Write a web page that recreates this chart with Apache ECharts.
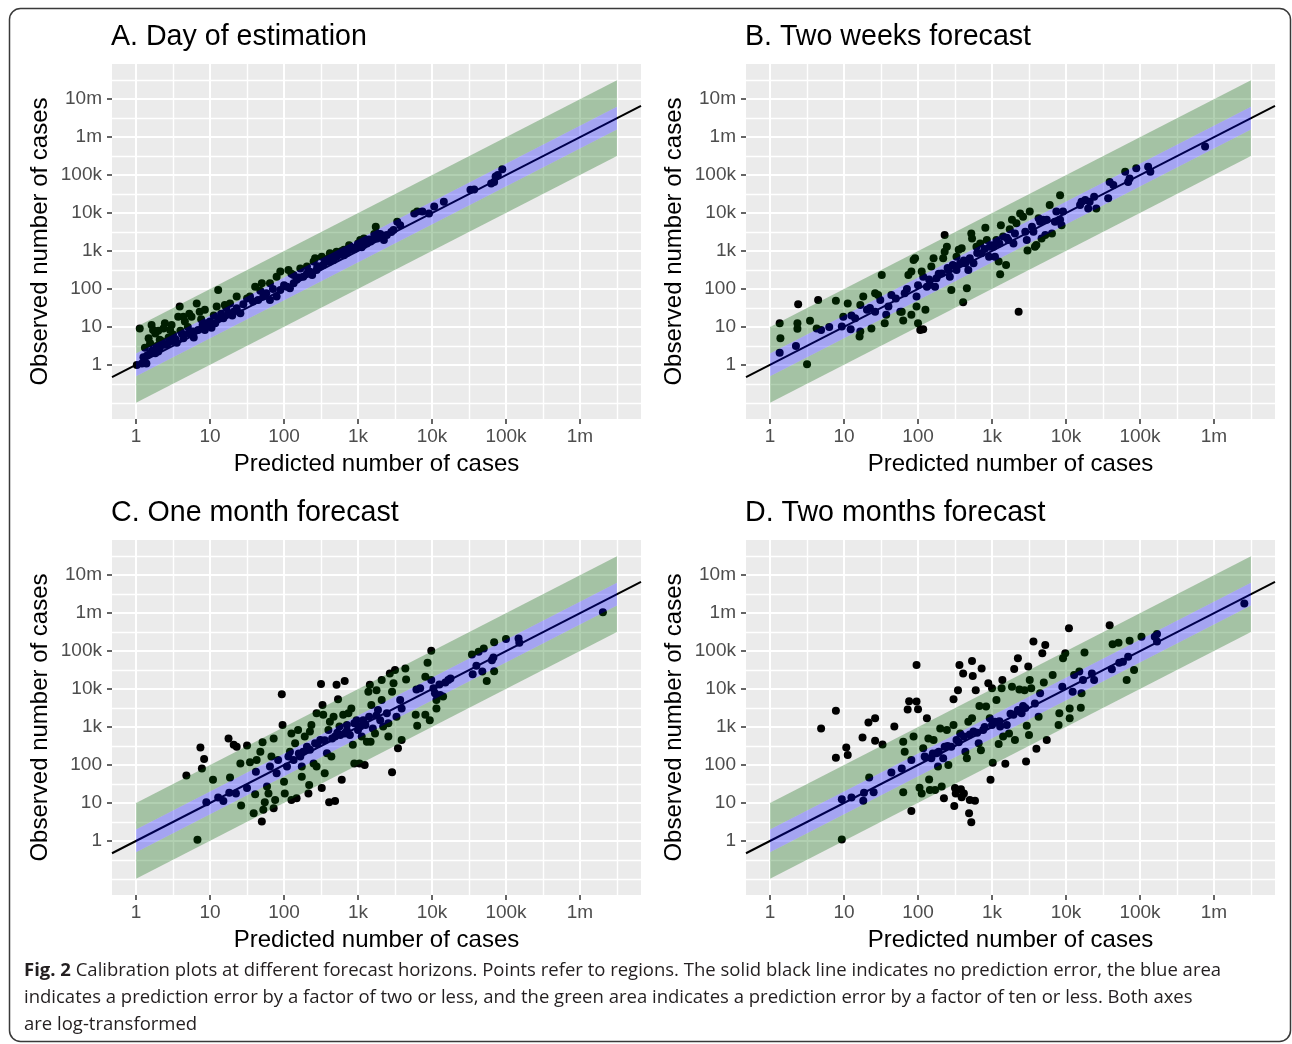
<!DOCTYPE html>
<html>
<head>
<meta charset="utf-8">
<title>Calibration plots at different forecast horizons</title>
<script src="https://cdn.jsdelivr.net/npm/echarts@6.0.0/dist/echarts.min.js"></script>
<style>
  html, body { margin: 0; padding: 0; background: #fff; }
  #chart { width: 1292px; height: 1044px; }
</style>
</head>
<body>
<div id="chart"></div>
<script>
// 两个坐标轴都是 log10 变换后的病例数, 点数据直接存 log10 值 [predicted, observed]
const panelTitles = ["A. Day of estimation", "B. Two weeks forecast", "C. One month forecast", "D. Two months forecast"];
const xName = "Predicted number of cases";
const yName = "Observed number of cases";

const xTickLogs = [0, 1, 2, 3, 4, 5, 6];
const xTickLabels = ["1", "10", "100", "1k", "10k", "100k", "1m"];
const yTickLogs = [0, 1, 2, 3, 4, 5, 6, 7];
const yTickLabels = ["1", "10", "100", "1k", "10k", "100k", "1m", "10m"];
const xMinorLogs = [0.5, 1.5, 2.5, 3.5, 4.5, 5.5, 6.5];
const yMinorLogs = [-1, -0.5, 0.5, 1.5, 2.5, 3.5, 4.5, 5.5, 6.5, 7.5];

// 坐标范围 (ggplot 默认 5% 扩展)
const xRange = [-0.325, 6.825];
const yRange = [-1.425, 7.925];
// 误差带: 从 1 到 10^6.5, 系数 2 (蓝) 和 10 (绿)
const bandRange = [0, 6.5];
const LOG2 = Math.log10(2);

const pointsA = [
  [0.05,0.96],[0.21,1.05],[0.23,0.92],[0.17,0.70],[0.19,0.57],[0.26,0.83],[0.37,0.96],[0.39,1.10],[0.32,0.66],[0.46,0.92],
  [0.59,1.54],[0.64,1.27],[0.57,1.27],[0.66,1.14],[0.75,1.27],[0.82,1.62],[0.86,1.40],[0.93,1.45],[0.95,1.10],[1.09,1.54],
  [1.11,1.97],[1.20,1.58],[1.27,1.62],[1.36,1.80],
  [0.01,0.00],[0.08,0.04],[0.14,0.04],[0.19,0.31],[0.26,0.31],[0.32,0.44],[0.39,0.53],[0.46,0.61],[0.53,0.68],[0.64,0.70],
  [0.71,0.83],[0.77,0.88],[0.84,0.92],[0.93,0.92],[1.00,1.14],[1.07,1.10],[1.11,1.23],[1.18,1.23],[1.25,1.36],[1.32,1.40],
  [1.36,1.49],[1.41,1.36],
  [0.12,0.45],[0.15,0.25],[0.22,0.38],[0.28,0.50],[0.35,0.62],[0.42,0.55],[0.50,0.80],[0.55,0.58],[0.60,0.90],[0.70,1.00],
  [0.78,0.72],[0.90,1.05],[1.02,0.98],[1.15,1.35],[1.30,1.30],
  [1.54,1.80],[1.61,2.06],[1.70,2.15],[1.81,2.15],[1.90,2.32],[1.95,2.46],[2.06,2.50],[2.13,2.37],[2.22,2.54],[2.31,2.59],
  [2.42,2.81],[2.51,2.85],[2.62,2.94],[2.71,2.98],[2.81,3.03],[2.90,3.11],[3.03,3.29],[3.08,3.33],[3.24,3.64],[3.26,3.46],
  [3.53,3.77],
  [1.58,1.67],[1.65,1.71],[1.72,1.80],[1.76,1.89],[1.81,1.71],[1.90,1.80],[1.95,1.97],[2.04,2.06],[2.08,2.02],[2.13,2.15],
  [2.17,2.24],[2.26,2.32],[2.31,2.41],[2.38,2.37],[2.44,2.50],[2.49,2.59],[2.53,2.63],[2.62,2.72],[2.67,2.76],[2.71,2.85],
  [2.81,2.89],[2.90,3.03],[2.94,3.07],[2.99,3.11],[3.08,3.16],[3.12,3.20],[3.17,3.25],[3.26,3.33],[3.35,3.29],[3.39,3.42],
  [3.48,3.55],[3.57,3.68],[3.76,3.99],[3.80,4.04],[3.87,4.04],[3.96,3.99],[4.03,4.17],[4.16,4.30],[4.52,4.61],[4.57,4.62],
  [4.80,4.78],[4.84,4.82],[4.86,4.96],[4.89,5.00],[4.95,5.15],
  [2.00,2.10],[2.20,2.30],[2.35,2.45],[2.55,2.70],[2.65,2.85],[2.75,2.90],[2.85,2.95],[2.95,3.05],[3.00,3.20],[3.05,3.10],
  [3.15,3.30],[3.20,3.30],[3.30,3.45],[3.45,3.50],[1.85,2.00],[1.50,1.75],[2.45,2.60],[2.60,2.80],[3.10,3.25],[3.35,3.40],
  [0.10,0.20],[0.30,0.35],[0.44,0.72],[0.62,0.82],[0.88,1.20],[1.05,1.30],[1.22,1.50],[1.45,1.60],[1.68,1.95],[2.10,2.40],
  [2.40,2.72],[2.58,2.78],[2.78,3.00],[2.88,3.15],[3.22,3.45],[0.30,0.90],[0.48,1.05],[0.72,1.35]
];

const pointsB = [
  [0.13,0.32],[0.35,0.50],[0.14,0.70],[0.13,1.10],[0.37,1.10],[0.37,0.95],[0.38,1.60],[0.50,0.02],[0.54,1.16],[0.65,1.71],
  [0.63,0.96],[0.69,0.92],[0.89,1.69],[1.05,1.62],[0.99,1.27],[0.97,1.01],[1.09,0.94],[1.15,1.23],[1.22,1.58],[1.21,0.75],
  [1.22,0.88],[1.26,1.80],[1.31,1.45],[1.37,0.96],[1.42,1.89],[1.46,1.84],[1.42,1.40],[1.49,1.71],[1.55,1.10],[1.57,1.32],
  [1.60,1.54],[1.64,1.84],[1.51,2.37],[1.76,1.40],[1.80,1.17],[1.78,1.40],[1.82,1.89],[1.87,2.37],[1.91,2.46],[1.94,2.76],
  [1.96,2.81],[1.98,1.80],[1.98,1.54],[1.91,1.32],[2.00,1.10],[2.03,0.92],[2.07,0.94],[2.10,1.45],[2.12,2.06],[2.07,2.32],
  [2.05,2.46],[2.16,2.11],[2.18,2.59],[2.21,2.81],[2.25,2.28],[2.23,2.06],[2.32,2.41],[2.34,2.81],[2.36,3.42],[2.36,2.98],
  [2.39,3.11],[2.41,2.50],[2.43,2.32],[2.45,1.97],[2.47,2.63],[2.52,2.85],[2.52,2.50],[2.55,3.03],[2.57,2.68],[2.59,3.07],
  [2.61,1.65],[2.64,2.68],[2.66,2.02],[2.68,2.50],[2.70,2.81],[2.72,3.46],[2.73,3.33],[2.75,2.68],[2.79,3.11],[2.84,3.20],
  [2.86,2.94],[2.91,3.61],[2.93,3.29],[2.96,2.85],[2.97,3.11],[3.02,3.11],[3.04,2.85],[3.06,3.29],[3.09,2.72],[3.11,2.39],
  [3.12,3.68],[3.15,3.38],[3.19,2.63],[3.22,3.29],[3.24,3.57],[3.27,3.82],[3.29,3.20],[3.31,3.46],[3.33,3.73],[3.36,1.40],
  [3.38,3.99],[3.42,3.90],[3.45,3.51],[3.47,3.29],[3.48,3.01],[3.51,4.04],[3.54,3.64],[3.56,3.51],[3.58,3.11],[3.60,3.16],
  [3.63,3.86],[3.65,3.77],[3.67,3.33],[3.69,3.82],[3.72,3.42],[3.74,3.82],[3.78,4.21],[3.81,3.46],[3.85,3.77],[3.87,4.04],
  [3.92,4.47],[3.92,3.82],[3.94,3.68],[3.96,4.04],[4.19,4.21],[4.21,4.30],[4.26,4.34],[4.30,4.12],[4.32,4.30],[4.38,4.43],
  [4.41,4.12],[4.57,4.39],[4.59,4.82],[4.64,4.74],[4.80,5.09],[4.84,4.82],[4.86,4.91],[4.95,5.18],[5.11,5.22],[5.14,5.09],
  [5.88,5.75],
  [1.70,1.75],[1.85,2.00],[2.00,2.10],[2.15,2.25],[2.28,2.40],[2.40,2.55],[2.50,2.60],[2.62,2.75],[2.80,2.95],[2.90,3.05],
  [3.00,3.15],[3.10,3.20],[3.20,3.35],[1.35,1.50],[1.10,1.30],[0.80,1.00]
];

const pointsC = [
  [0.83,0.03],[0.68,1.72],[0.87,2.46],[0.92,2.16],[0.89,1.91],[0.95,1.02],[1.04,1.61],[1.11,1.14],[1.18,1.05],[1.25,2.70],
  [1.27,1.67],[1.26,1.27],[1.32,2.53],[1.36,2.48],[1.35,1.25],[1.41,2.04],[1.42,0.93],[1.50,1.39],[1.50,2.51],[1.54,2.07],
  [1.59,0.73],[1.61,1.23],[1.62,1.82],[1.63,2.13],[1.68,2.35],[1.70,0.51],[1.71,2.60],[1.72,0.82],[1.74,1.02],[1.77,1.43],
  [1.79,1.25],[1.81,1.96],[1.83,2.22],[1.86,2.70],[1.86,0.86],[1.88,1.08],[1.90,1.78],[1.92,2.13],[1.97,3.86],[1.98,3.05],
  [2.00,1.56],[2.01,1.25],[2.04,1.96],[2.06,2.22],[2.08,2.35],[2.10,1.08],[2.10,2.83],[2.13,2.13],[2.15,2.57],[2.17,1.12],
  [2.19,2.92],[2.22,2.22],[2.24,1.96],[2.24,1.69],[2.26,2.35],[2.28,2.75],[2.31,2.48],[2.33,1.25],[2.34,1.47],[2.35,2.88],
  [2.37,3.05],[2.40,2.04],[2.42,2.57],[2.44,3.36],[2.44,1.96],[2.49,2.66],[2.50,4.13],[2.51,1.39],[2.52,3.58],[2.53,3.32],
  [2.55,1.78],[2.58,2.31],[2.60,2.92],[2.61,1.02],[2.62,3.14],[2.64,2.22],[2.67,3.27],[2.69,1.05],[2.69,2.75],[2.71,4.11],
  [2.73,3.73],[2.75,3.01],[2.76,2.79],[2.78,1.61],[2.80,3.32],[2.82,4.21],[2.82,2.83],[2.85,3.05],[2.87,3.36],[2.89,2.79],
  [2.91,3.49],[2.93,2.53],[2.95,2.04],[2.98,3.18],[3.00,2.92],[3.02,2.04],[3.03,3.01],[3.05,2.75],[3.07,3.18],[3.09,2.00],
  [3.12,2.61],[3.14,3.93],[3.15,3.27],[3.16,4.11],[3.17,2.61],[3.18,3.58],[3.20,2.96],[3.23,2.83],[3.25,3.97],[3.27,3.45],
  [3.30,3.18],[3.32,3.71],[3.32,4.24],[3.34,3.01],[3.39,3.36],[3.41,2.75],[3.41,3.10],[3.43,4.41],[3.46,3.93],[3.46,1.81],
  [3.48,4.15],[3.50,4.50],[3.52,3.27],[3.54,2.44],[3.57,3.71],[3.59,3.49],[3.59,2.66],[3.64,4.54],[3.65,4.25],[3.78,3.32],
  [3.79,3.99],[3.80,3.03],[3.84,4.02],[3.91,4.32],[3.91,3.32],[3.94,4.69],[3.97,3.18],[3.99,5.01],[3.99,4.24],[4.02,4.02],
  [4.04,3.89],[4.06,3.71],[4.06,3.49],[4.10,4.12],[4.11,3.84],[4.15,3.80],[4.18,4.17],[4.22,4.24],[4.25,4.28],[4.54,4.91],
  [4.55,4.39],[4.60,4.61],[4.63,4.98],[4.68,4.46],[4.70,5.07],[4.74,4.21],[4.81,4.76],[4.83,4.83],[4.84,4.47],[4.84,5.23],
  [5.00,5.32],[5.17,5.33],[5.18,5.22],[6.31,6.02],
  [2.20,2.30],[2.35,2.40],[2.45,2.55],[2.55,2.65],[2.65,2.70],[2.72,2.85],[2.85,2.90],[2.95,3.10],[3.10,3.05],[3.25,3.30]
];

const pointsD = [
  [0.97,0.04],[0.69,2.96],[0.89,3.43],[0.89,2.19],[1.03,2.46],[1.05,2.26],[0.97,1.10],[1.10,1.14],[1.26,1.06],[1.27,1.27],
  [1.34,1.67],[1.40,1.28],[1.25,2.72],[1.33,3.12],[1.42,3.23],[1.42,2.64],[1.52,2.54],[1.64,1.80],[1.68,3.01],[1.78,1.91],
  [1.80,1.28],[1.80,2.61],[1.82,2.35],[1.88,3.68],[1.86,3.46],[1.91,0.79],[1.91,2.13],[1.94,2.75],[1.98,4.63],[1.98,3.67],
  [2.00,3.47],[2.02,1.40],[2.05,1.25],[2.07,2.44],[2.09,2.22],[2.12,3.23],[2.14,2.70],[2.15,1.62],[2.16,1.34],[2.18,2.18],
  [2.21,2.66],[2.23,1.34],[2.25,2.31],[2.27,1.96],[2.30,2.96],[2.32,1.43],[2.34,2.18],[2.35,1.12],[2.36,2.48],[2.39,2.92],
  [2.41,2.00],[2.45,2.48],[2.48,3.05],[2.48,3.73],[2.49,0.92],[2.50,1.39],[2.51,1.25],[2.52,2.66],[2.54,3.97],[2.56,4.63],
  [2.57,2.83],[2.58,1.36],[2.59,1.15],[2.61,4.41],[2.62,1.25],[2.64,2.35],[2.66,2.18],[2.68,3.14],[2.69,0.73],[2.70,1.08],
  [2.72,0.49],[2.73,4.74],[2.73,3.23],[2.74,4.34],[2.75,2.88],[2.77,1.06],[2.78,3.97],[2.82,2.57],[2.83,3.55],[2.85,2.39],
  [2.86,4.54],[2.88,2.92],[2.92,3.54],[2.95,4.15],[2.97,3.23],[2.98,1.61],[3.00,4.02],[3.01,2.06],[3.04,3.14],[3.06,3.71],
  [3.09,2.55],[3.11,3.01],[3.13,4.02],[3.14,4.24],[3.15,2.75],[3.18,2.03],[3.20,3.05],[3.23,2.83],[3.27,4.06],[3.29,3.32],
  [3.30,4.53],[3.31,2.66],[3.35,4.81],[3.37,3.99],[3.40,3.36],[3.42,3.55],[3.44,3.97],[3.46,2.09],[3.47,3.03],[3.49,4.59],
  [3.50,2.79],[3.51,4.24],[3.53,4.02],[3.56,5.25],[3.58,3.62],[3.60,2.43],[3.63,3.27],[3.65,3.89],[3.68,4.94],[3.70,4.17],
  [3.72,5.16],[3.74,2.66],[3.82,4.37],[3.90,3.05],[3.91,3.36],[3.95,4.06],[3.96,4.81],[3.99,4.94],[4.04,5.60],[4.05,3.23],
  [4.05,3.49],[4.09,3.93],[4.11,4.37],[4.18,4.46],[4.20,3.51],[4.21,3.89],[4.23,4.24],[4.25,4.96],[4.35,4.41],[4.38,4.24],
  [4.59,5.68],[4.62,4.52],[4.63,5.18],[4.71,5.22],[4.72,4.69],[4.77,4.72],[4.82,4.24],[4.84,4.85],[4.86,5.27],[4.92,4.50],
  [5.02,5.38],[5.20,5.38],[5.23,5.45],[5.23,5.25],[6.41,6.25],
  [2.10,2.20],[2.20,2.30],[2.28,2.35],[2.40,2.50],[2.55,2.60],[2.62,2.75],[2.70,2.80],[2.80,2.85],[2.90,3.00],[3.00,3.05],
  [3.10,3.15],[3.25,3.35],[3.35,3.45],[3.45,3.50]
];

const panelPoints = [pointsA, pointsB, pointsC, pointsD];

// 面板布局
const panelLayout = [
  { left: 112, top: 64 },
  { left: 746, top: 64 },
  { left: 112, top: 540 },
  { left: 746, top: 540 }
];
const plotWidth = 529;
const plotHeight = 355;

const captionLines = [
  "{b|Fig. 2} Calibration plots at different forecast horizons. Points refer to regions. The solid black line indicates no prediction error, the blue area",
  "indicates a prediction error by a factor of two or less, and the green area indicates a prediction error by a factor of ten or less. Both axes",
  "are log-transformed"
];

const FONT = "Liberation Sans";
const GREEN_FILL = "rgba(0,100,0,0.3)";
const BLUE_FILL = "rgba(0,0,255,0.3)";

const chart = echarts.init(document.getElementById("chart"), null, { renderer: "canvas" });

const tickLabel = (logs, labels) => (v) => {
  const k = logs.findIndex((t) => Math.abs(t - v) < 1e-6);
  return k >= 0 ? labels[k] : "";
};

const grid = [];
const xAxis = [];
const yAxis = [];
const series = [];
const title = [];

panelTitles.forEach((text, i) => {
  const lay = panelLayout[i];
  grid.push({
    left: lay.left, top: lay.top, width: plotWidth, height: plotHeight,
    show: true, backgroundColor: "#EBEBEB", borderWidth: 0,
    outerBoundsMode: "none", containLabel: false
  });
  title.push({
    text, left: lay.left - 1, top: lay.top - 41, padding: 0,
    textStyle: { fontFamily: FONT, fontSize: 28.6, fontWeight: "normal", color: "#000" }
  });

  // 主坐标轴: 刻度, 标签, 主网格线
  xAxis.push({
    gridIndex: i, type: "value", position: "bottom", min: xRange[0], max: xRange[1],
    name: xName, nameLocation: "middle", nameGap: 33, nameMoveOverlap: false,
    nameTextStyle: { fontFamily: FONT, fontSize: 24, color: "#000" },
    axisLine: { show: false, onZero: false },
    axisTick: { show: true, customValues: xTickLogs, length: 5, lineStyle: { color: "#333", width: 1.5 } },
    axisLabel: { customValues: xTickLogs, formatter: tickLabel(xTickLogs, xTickLabels), color: "#4D4D4D", fontFamily: FONT, fontSize: 19, margin: 8 },
    splitLine: { show: true, lineStyle: { color: "#fff", width: 2 } }
  });
  // 次网格线
  xAxis.push({
    gridIndex: i, type: "value", position: "bottom", min: xRange[0], max: xRange[1],
    axisLine: { show: false, onZero: false },
    axisTick: { show: false, customValues: xMinorLogs },
    axisLabel: { show: false },
    splitLine: { show: true, lineStyle: { color: "#fff", width: 1.4 } }
  });
  yAxis.push({
    gridIndex: i, type: "value", position: "left", min: yRange[0], max: yRange[1],
    name: yName, nameLocation: "middle", nameGap: 60, nameMoveOverlap: false,
    nameTextStyle: { fontFamily: FONT, fontSize: 24, color: "#000" },
    axisLine: { show: false, onZero: false },
    axisTick: { show: true, customValues: yTickLogs, length: 5, lineStyle: { color: "#333", width: 1.5 } },
    axisLabel: { customValues: yTickLogs, formatter: tickLabel(yTickLogs, yTickLabels), color: "#4D4D4D", fontFamily: FONT, fontSize: 19, margin: 10 },
    splitLine: { show: true, lineStyle: { color: "#fff", width: 2 } }
  });
  yAxis.push({
    gridIndex: i, type: "value", position: "left", min: yRange[0], max: yRange[1],
    axisLine: { show: false, onZero: false },
    axisTick: { show: false, customValues: yMinorLogs },
    axisLabel: { show: false },
    splitLine: { show: true, lineStyle: { color: "#fff", width: 1.4 } }
  });

  const ax = 2 * i;
  // 点
  series.push({
    type: "scatter", xAxisIndex: ax, yAxisIndex: ax, data: panelPoints[i],
    symbolSize: 8, itemStyle: { color: "#000", opacity: 1 }, z: 2, silent: true
  });
  // 无误差线 y = x
  series.push({
    type: "line", xAxisIndex: ax, yAxisIndex: ax,
    data: [[xRange[0], xRange[0]], [xRange[1], xRange[1]]],
    symbol: "none", lineStyle: { color: "#000", width: 2 }, z: 3, silent: true, clip: true
  });
  // 误差带 (绿: 2-10 倍, 蓝: 2 倍以内)
  const strips = [
    [bandRange[0], bandRange[1], -1, -LOG2, GREEN_FILL],
    [bandRange[0], bandRange[1], LOG2, 1, GREEN_FILL],
    [bandRange[0], bandRange[1], -LOG2, LOG2, BLUE_FILL]
  ];
  series.push({
    type: "custom", xAxisIndex: ax, yAxisIndex: ax, z: 4, silent: true, clip: true,
    data: strips.map((s) => s.slice(0, 4)),
    encode: { x: [0, 1], y: [2, 3] },
    renderItem: (params, api) => {
      const x0 = api.value(0), x1 = api.value(1), lo = api.value(2), hi = api.value(3);
      const pts = [
        api.coord([x0, x0 + lo]), api.coord([x1, x1 + lo]),
        api.coord([x1, x1 + hi]), api.coord([x0, x0 + hi])
      ];
      return { type: "polygon", shape: { points: pts }, style: { fill: strips[params.dataIndex][4] } };
    }
  });
});

const graphic = [
  {
    type: "rect", silent: true, z: 0,
    shape: { x: 9.5, y: 8.5, width: 1281, height: 1033, r: 11 },
    style: { fill: "none", stroke: "#3a3a3a", lineWidth: 1.5 }
  }
];
captionLines.forEach((line, k) => {
  graphic.push({
    type: "text", silent: true, x: 24, y: 971 + k * 27,
    style: {
      text: line, fill: "#231f20", fontFamily: "Open Sans", fontSize: 18.5,
      verticalAlign: "middle", align: "left",
      rich: { b: { fontWeight: "bold", fontFamily: "Open Sans", fontSize: 18.5, fill: "#231f20" } }
    }
  });
});

chart.setOption({
  animation: false,
  backgroundColor: "#fff",
  textStyle: { fontFamily: FONT },
  title, grid, xAxis, yAxis, series, graphic
});
</script>
</body>
</html>
